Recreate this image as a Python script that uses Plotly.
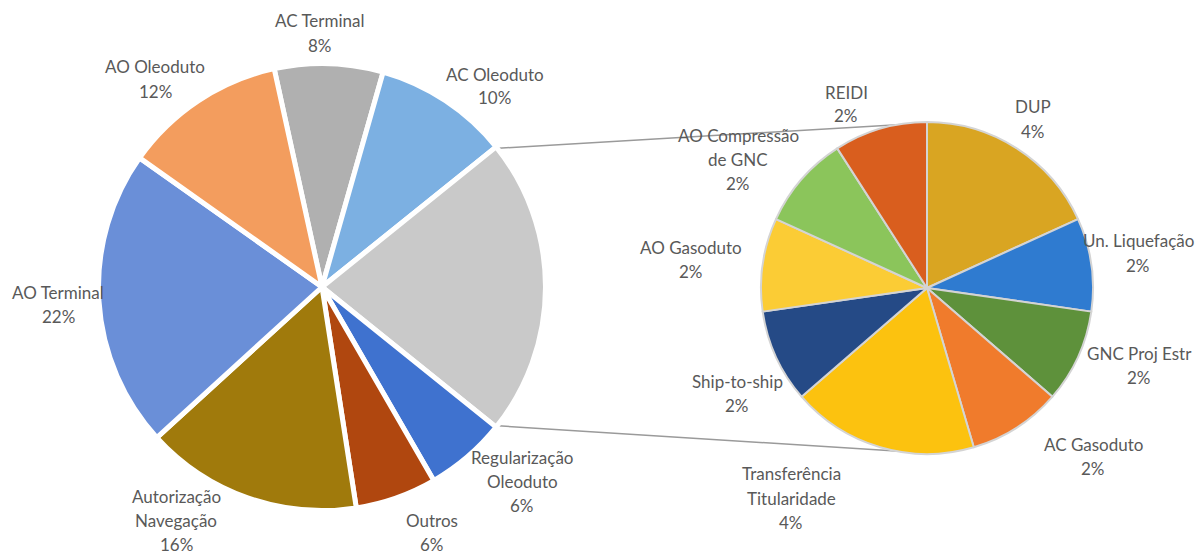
import math
import plotly.graph_objects as go

W, H = 1201, 554

# ---- data ----
main_labels = ["AC Terminal", "AC Oleoduto", "Outros (grupo)", "Regularização\nOleoduto", "Outros",
               "Autorização\nNavegação", "AO Terminal", "AO Oleoduto"]
main_values = [8, 10, 22, 6, 6, 16, 22, 12]
group_index = 2  # slice that is broken out into the second pie

sub_labels = ["DUP", "Un. Liquefação", "GNC Proj Estr", "AC Gasoduto", "Transferência\nTitularidade",
              "Ship-to-ship", "AO Gasoduto", "AO Compressão\nde GNC", "REIDI"]
sub_values = [4, 2, 2, 2, 4, 2, 2, 2, 2]

main_colors = ["#b0b0b0", "#7cb0e2", "#c9c9c9", "#3f72cf", "#b0470f", "#a07a0c", "#6a8fd8", "#f39d5e"]
sub_colors = ["#d9a522", "#2f7bd0", "#5e913b", "#f07b2c", "#fcc20f", "#254a86", "#fbcc35", "#8bc55b", "#d95e1e"]

# ---- layout geometry (pixels) ----
main_c, main_r, main_lw = (322, 287), 221, 5
sub_c, sub_r, sub_lw = (927, 288), 165, 2

# label block anchors (pixel centre x, first line y)
main_label_pos = [(320, 21), (495, 74), None, (522, 457), (432, 520), (176, 496), (58, 292), (155, 67)]
sub_label_pos = [(1033, 107), (1138, 241), (1139, 353), (1093, 444), (791, 474),
                 (737, 381), (691, 247), (738, 135), (846, 92)]
LINE_STEP = 24
TXT = "#595959"
FONT = "Lato"
FSIZE = 17

total = sum(main_values)
group_mid = sum(main_values[:group_index]) + main_values[group_index] / 2
main_rotation = 90 - group_mid / total * 360


def domain(c, r, lw):
    R = r + lw / 2
    return dict(x=[(c[0] - R) / W, (c[0] + R) / W], y=[1 - (c[1] + R) / H, 1 - (c[1] - R) / H])


fig = go.Figure()
fig.add_trace(go.Pie(
    labels=main_labels, values=main_values, sort=False, direction="clockwise",
    rotation=main_rotation, domain=domain(main_c, main_r, main_lw),
    marker=dict(colors=main_colors, line=dict(color="white", width=main_lw)),
    textinfo="none", hoverinfo="label+percent", showlegend=False,
))
fig.add_trace(go.Pie(
    labels=sub_labels, values=sub_values, sort=False, direction="clockwise",
    rotation=0, domain=domain(sub_c, sub_r, sub_lw),
    marker=dict(colors=sub_colors, line=dict(color="#d4d4d4", width=sub_lw)),
    textinfo="none", hoverinfo="label+value", showlegend=False,
))

annotations = []


def add_labels(labels, values, positions):
    for lab, val, pos in zip(labels, values, positions):
        if pos is None:
            continue
        lines = lab.split("\n") + [f"{round(val / total * 100)}%"]
        for i, ln in enumerate(lines):
            annotations.append(dict(
                x=pos[0] / W, y=1 - (pos[1] + i * LINE_STEP) / H, xref="paper", yref="paper",
                text=ln, showarrow=False, xanchor="center", yanchor="middle",
                font=dict(family=FONT, size=FSIZE, color=TXT)))


add_labels(main_labels, main_values, main_label_pos)
add_labels(sub_labels, sub_values, sub_label_pos)

# connector lines from the group slice edges to the top/bottom of the second pie
start_deg = main_rotation + sum(main_values[:group_index]) / total * 360
end_deg = start_deg + main_values[group_index] / total * 360
shapes = []
for ang, target_y in ((start_deg, sub_c[1] - sub_r), (end_deg, sub_c[1] + sub_r)):
    a = math.radians(ang)
    x0 = main_c[0] + main_r * math.sin(a)
    y0 = main_c[1] - main_r * math.cos(a)
    shapes.append(dict(type="line", xref="paper", yref="paper", layer="below",
                       x0=x0 / W, y0=1 - y0 / H, x1=sub_c[0] / W, y1=1 - target_y / H,
                       line=dict(color="#9a9a9a", width=1.5)))

fig.update_layout(
    width=W, height=H, margin=dict(l=0, r=0, t=0, b=0),
    paper_bgcolor="white", plot_bgcolor="white",
    annotations=annotations, shapes=shapes,
)

fig.write_html("out.html", config={"displayModeBar": False},
               post_script="document.body.style.margin='0';document.body.style.overflow='hidden';")
